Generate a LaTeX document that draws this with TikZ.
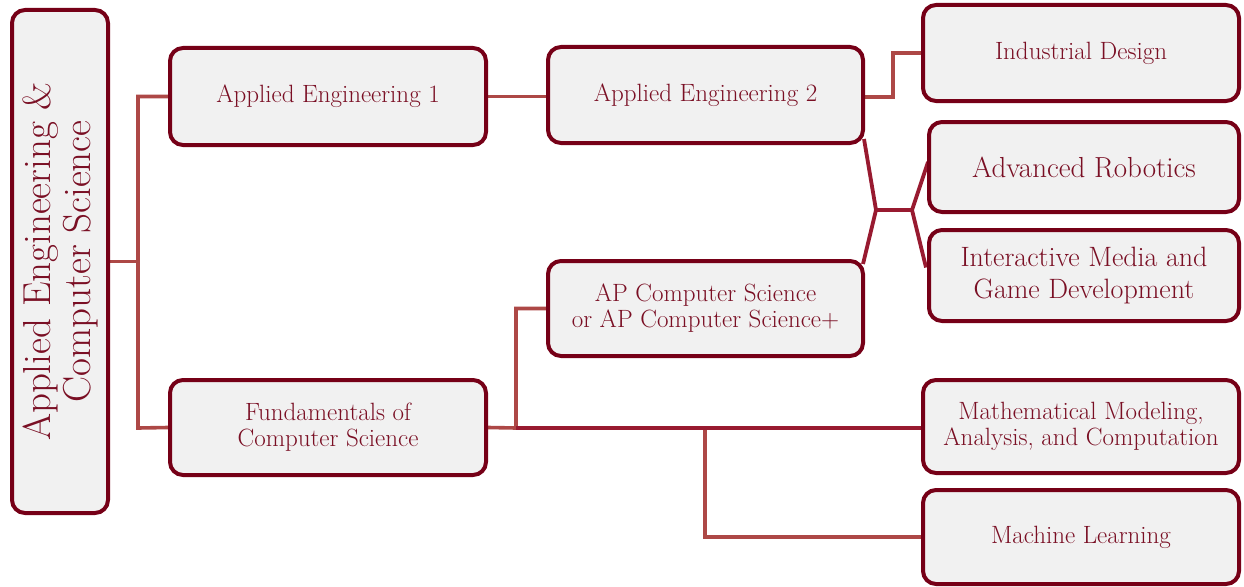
\documentclass[tikz,border=0pt]{standalone}
\usetikzlibrary{backgrounds}
\definecolor{boxline}{HTML}{760017}
\definecolor{boxfill}{HTML}{F1F1F1}
\definecolor{txt}{HTML}{7A0F24}
\definecolor{linkA}{HTML}{AD4846}
\definecolor{linkB}{HTML}{981A30}
\tikzset{
  px/.style={x=1pt,y=-1pt},
  box/.style={draw=boxline, fill=boxfill, line width=4pt, rounded corners=13pt, text=txt, align=center, inner sep=0pt, font=\fontsize{25}{26}\selectfont},
  bigtext/.style={font=\fontsize{29}{32}\selectfont},
  linka/.style={draw=linkA, line width=3.6pt},
  linkb/.style={draw=linkB, line width=3.8pt},
}
\begin{document}
\begin{tikzpicture}[px]
\useasboundingbox (0,0) rectangle (1244,586);
\node[box, minimum width=96pt, minimum height=503pt] (root) at (60,261.5) {};
\node[box, minimum width=316pt, minimum height=97pt] (ae1) at (328,96.5) {Applied Engineering 1};
\node[box, minimum width=315pt, minimum height=96pt] (ae2) at (705.5,95) {Applied Engineering 2};
\node[box, minimum width=316pt, minimum height=96pt] (ind) at (1081,53) {Industrial Design};
\node[box, bigtext, minimum width=310pt, minimum height=90pt] (rob) at (1084,167) {Advanced Robotics};
\node[box, font=\fontsize{28}{32}\selectfont, minimum width=310pt, minimum height=91pt] (imd) at (1084,275.5) {Interactive Media and\\Game Development};
\node[box, minimum width=315pt, minimum height=95pt] (apcs) at (705.5,308.5) {AP Computer Science\\or AP Computer Science+};
\node[box, minimum width=316pt, minimum height=95pt] (fund) at (328,427.5) {Fundamentals of\\Computer Science};
\node[box, minimum width=316pt, minimum height=93pt] (math) at (1081,426.5) {Mathematical Modeling,\\Analysis, and Computation};
\node[box, minimum width=316pt, minimum height=94pt] (ml) at (1081,537) {Machine Learning};
\node[rotate=90, text=txt, align=center, font=\fontsize{39}{40}\selectfont] (roottxt) at (root.center) {Applied Engineering \&\\Computer Science};
% junction coordinates
\coordinate (tm) at (138,261.5);
\coordinate (t1) at (138,97);
\coordinate (t2) at (138,428);
\coordinate (a1) at (863,97);
\coordinate (j1) at (893,97);
\coordinate (j2) at (893,53);
\coordinate (hL) at (876,210);
\coordinate (hR) at (912,210);
\coordinate (f1) at (516,428);
\coordinate (f2) at (516,308.5);
\coordinate (m1) at (705,428);
\coordinate (m2) at (705,537);
\begin{scope}[on background layer]
  \draw[linka] (root.east) -- (tm);
  \draw[linka] (ae1.west) -- (ae1.west -| t1) -- (t2) -- (fund.west);
  \draw[linka] (ae1.east) -- (ae1.east -| ae2.west);
  \draw[linka] (a1) -- (j1) -- (j2) -- (ind.west);
  \draw[linka] (m1) -- (m2) -- (ml.west);
  \draw[linka] (fund.east) -- (f1) -- (f2) -- (apcs.west);
  \draw[linkb] (f1) -- (f1 -| math.west);
  \draw[linkb] ([shift={(-1pt,6pt)}]ae2.south east) -- (hL) -- ([shift={(-2pt,-5pt)}]apcs.north east);
  \draw[linkb] (hL) -- (hR);
  \draw[linkb] ([shift={(1pt,5pt)}]rob.west) -- (hR) -- ([shift={(-1pt,8pt)}]imd.west);
\end{scope}
\end{tikzpicture}
\end{document}
